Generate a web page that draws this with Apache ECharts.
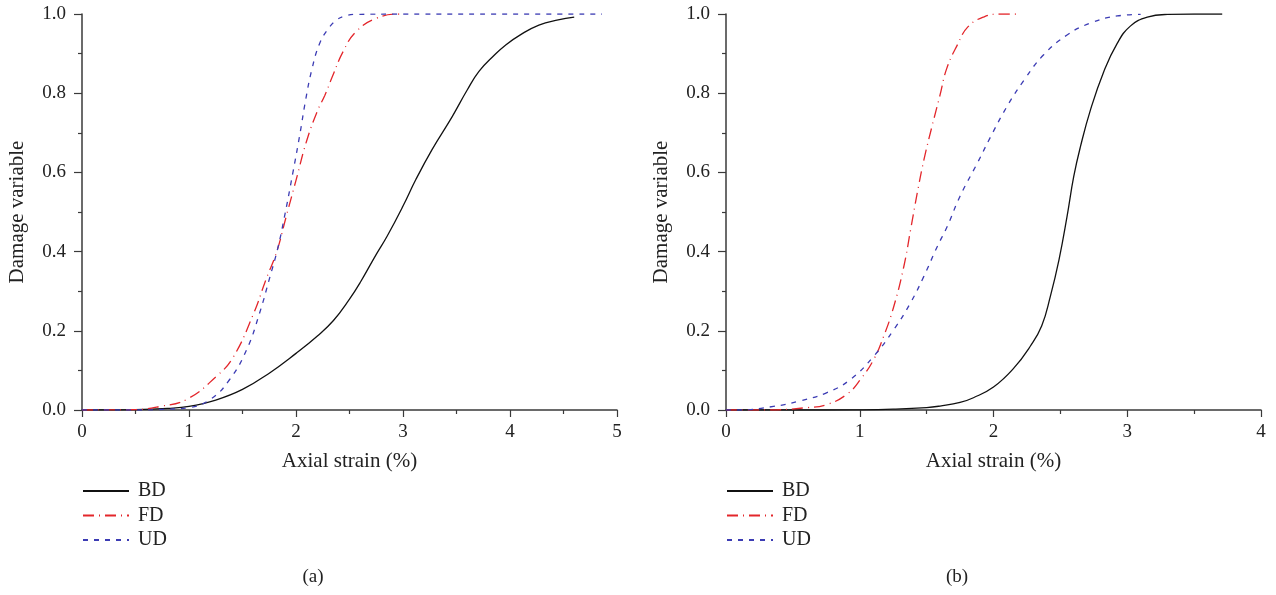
<!DOCTYPE html>
<html>
<head>
<meta charset="utf-8">
<script src="https://cdn.jsdelivr.net/npm/echarts@6/dist/echarts.min.js"></script>
<style>
  html, body { margin: 0; padding: 0; background: #fff; }
  #chart { width: 1276px; height: 595px; }
</style>
</head>
<body>
<div id="chart"></div>
<script>
// Panel (a): damage variable vs axial strain (%)
const strainBD_a = [0, 0.5, 0.8, 1.0, 1.25, 1.5, 1.75, 2.0, 2.2, 2.35, 2.5, 2.6, 2.75, 2.85, 3.0, 3.12, 3.27, 3.46, 3.6, 3.71, 3.85, 3.96, 4.1, 4.27, 4.45, 4.6];
const damageBD_a = [0, 0.001, 0.004, 0.009, 0.025, 0.052, 0.093, 0.143, 0.187, 0.226, 0.28, 0.322, 0.393, 0.438, 0.515, 0.582, 0.657, 0.741, 0.808, 0.855, 0.895, 0.922, 0.948, 0.972, 0.985, 0.992];

const strainFD_a = [0, 0.5, 0.73, 0.98, 1.26, 1.41, 1.6, 1.72, 1.82, 1.91, 2.0, 2.1, 2.2, 2.27, 2.34, 2.44, 2.56, 2.75, 2.97, 3.0];
const damageFD_a = [0, 0.001, 0.009, 0.027, 0.086, 0.132, 0.241, 0.33, 0.4, 0.49, 0.58, 0.68, 0.755, 0.795, 0.842, 0.905, 0.955, 0.989, 1.0, 1.0];

const strainUD_a = [0, 0.5, 0.8, 1.0, 1.2, 1.38, 1.54, 1.66, 1.75, 1.83, 1.89, 1.97, 2.04, 2.09, 2.15, 2.22, 2.3, 2.38, 2.46, 2.55, 3.0, 4.0, 4.86];
const damageUD_a = [0, 0.0, 0.002, 0.006, 0.027, 0.077, 0.153, 0.245, 0.33, 0.409, 0.485, 0.598, 0.702, 0.783, 0.862, 0.925, 0.962, 0.985, 0.995, 0.999, 1.0, 1.0, 1.0];

// Panel (b)
const strainBD_b = [0, 0.5, 1.0, 1.25, 1.5, 1.6, 1.75, 1.85, 2.0, 2.15, 2.275, 2.36, 2.425, 2.49, 2.55, 2.6, 2.65, 2.725, 2.825, 2.925, 3.025, 3.15, 3.3, 3.5, 3.71];
const damageBD_b = [0, 0, 0.0005, 0.002, 0.006, 0.01, 0.019, 0.031, 0.058, 0.105, 0.161, 0.212, 0.287, 0.38, 0.489, 0.59, 0.665, 0.758, 0.855, 0.926, 0.97, 0.992, 0.999, 1.0, 1.0];

const strainFD_b = [0, 0.3, 0.605, 0.755, 0.905, 1.005, 1.105, 1.18, 1.255, 1.33, 1.38, 1.43, 1.48, 1.54, 1.6, 1.65, 1.73, 1.81, 1.93, 2.05, 2.2];
const damageFD_b = [0, 0, 0.006, 0.014, 0.04, 0.077, 0.128, 0.187, 0.262, 0.363, 0.455, 0.548, 0.632, 0.716, 0.795, 0.862, 0.922, 0.968, 0.993, 1.0, 1.0];

const strainUD_b = [0, 0.1, 0.355, 0.555, 0.755, 0.93, 1.105, 1.255, 1.38, 1.48, 1.58, 1.655, 1.75, 1.88, 1.98, 2.1, 2.23, 2.375, 2.55, 2.725, 2.925, 3.1];
const damageUD_b = [0, 0, 0.009, 0.023, 0.044, 0.077, 0.136, 0.203, 0.271, 0.338, 0.413, 0.464, 0.54, 0.624, 0.691, 0.766, 0.834, 0.897, 0.947, 0.977, 0.995, 0.999];

const yTicks = [0, 0.2, 0.4, 0.6, 0.8, 1.0];
const seriesNames = ['BD', 'FD', 'UD'];
const captions = ['(a)', '(b)'];

const FONT = '"Liberation Serif", "DejaVu Serif", serif';
const AXIS_COLOR = '#3a3a3a';
const TEXT_COLOR = '#222';

const pairs = (xs, ys) => xs.map((x, i) => [x, ys[i]]);

const styles = {
  BD: { color: '#111', width: 1.3, type: 'solid' },
  FD: { color: '#e3262b', width: 1.3, type: [11, 5, 1, 5] },
  UD: { color: '#3c3cb4', width: 1.3, type: [5, 6] }
};

function makeSeries(name, data, idx) {
  const s = styles[name];
  return {
    name: name,
    type: 'line',
    xAxisIndex: idx,
    yAxisIndex: idx,
    data: data,
    smooth: 0.45,
    showSymbol: false,
    symbol: 'none',
    silent: true,
    lineStyle: { color: s.color, width: s.width, type: s.type },
    itemStyle: { color: s.color },
    z: name === 'BD' ? 3 : (name === 'FD' ? 4 : 5)
  };
}

function xAxisCfg(idx, max) {
  return {
    type: 'value', gridIndex: idx, min: 0, max: max, interval: 1,
    name: 'Axial strain (%)', nameLocation: 'middle', nameGap: 41,
    nameTextStyle: { fontFamily: FONT, fontSize: 21, color: TEXT_COLOR },
    axisLine: { show: true, onZero: false, lineStyle: { color: AXIS_COLOR, width: 1.5 } },
    axisTick: { show: true, inside: false, length: 7, lineStyle: { color: AXIS_COLOR, width: 1.2 } },
    minorTick: { show: true, splitNumber: 2, length: 4, lineStyle: { color: AXIS_COLOR, width: 1.2 } },
    axisLabel: { fontFamily: FONT, fontSize: 19, color: TEXT_COLOR, margin: 13 },
    splitLine: { show: false }
  };
}

function yAxisCfg(idx) {
  return {
    type: 'value', gridIndex: idx, min: 0, max: 1, interval: 0.2,
    name: 'Damage variable', nameLocation: 'middle', nameGap: 54, nameRotate: 90,
    nameTextStyle: { fontFamily: FONT, fontSize: 21, color: TEXT_COLOR },
    axisLine: { show: true, onZero: false, lineStyle: { color: AXIS_COLOR, width: 1.5 } },
    axisTick: { show: true, inside: false, length: 8, lineStyle: { color: AXIS_COLOR, width: 1.2 } },
    minorTick: { show: true, splitNumber: 2, length: 4, lineStyle: { color: AXIS_COLOR, width: 1.2 } },
    axisLabel: { fontFamily: FONT, fontSize: 19, color: TEXT_COLOR, margin: 16,
      formatter: v => yTicks.some(t => Math.abs(t - v) < 1e-9) ? v.toFixed(1) : '' },
    splitLine: { show: false }
  };
}

function legendCfg(left) {
  return {
    orient: 'vertical', left: left, top: 481, padding: 0,
    data: seriesNames, itemWidth: 46, itemHeight: 14, itemGap: 4.5,
    selectedMode: false,
    itemStyle: { opacity: 0 },
    textStyle: { fontFamily: FONT, fontSize: 20, lineHeight: 20, color: TEXT_COLOR, padding: [0, 0, 0, 4] }
  };
}

const chart = echarts.init(document.getElementById('chart'), null, { renderer: 'canvas' });

chart.setOption({
  backgroundColor: '#fff',
  animation: false,
  grid: [
    { left: 82, top: 14, width: 535, height: 396 },
    { left: 726, top: 14, width: 535, height: 396 }
  ],
  xAxis: [xAxisCfg(0, 5), xAxisCfg(1, 4)],
  yAxis: [yAxisCfg(0), yAxisCfg(1)],
  legend: [legendCfg(82), legendCfg(726)],
  graphic: [
    { type: 'text', x: 313, y: 577, style: { text: captions[0], font: '19px ' + FONT, fill: TEXT_COLOR, align: 'center', verticalAlign: 'middle' } },
    { type: 'text', x: 957, y: 577, style: { text: captions[1], font: '19px ' + FONT, fill: TEXT_COLOR, align: 'center', verticalAlign: 'middle' } }
  ],
  series: [
    makeSeries('BD', pairs(strainBD_a, damageBD_a), 0),
    makeSeries('FD', pairs(strainFD_a, damageFD_a), 0),
    makeSeries('UD', pairs(strainUD_a, damageUD_a), 0),
    makeSeries('BD', pairs(strainBD_b, damageBD_b), 1),
    makeSeries('FD', pairs(strainFD_b, damageFD_b), 1),
    makeSeries('UD', pairs(strainUD_b, damageUD_b), 1)
  ]
});
</script>
</body>
</html>
